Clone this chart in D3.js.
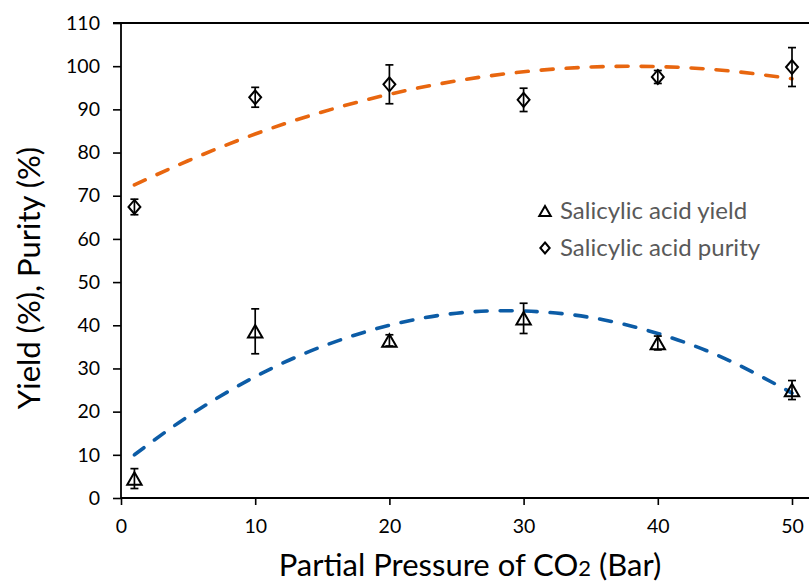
<!DOCTYPE html>
<html>
<head>
<meta charset="utf-8">
<script src="https://cdn.jsdelivr.net/npm/d3@7"></script>
<style>
  body { margin: 0; background: #fff; }
  svg { display: block; }
</style>
</head>
<body>
<div id="chart"></div>
<script>
// pressure points and measured values
var pressures = [1, 10, 20, 30, 40, 50];
var yieldVals = [4.5, 38.6, 36.5, 41.6, 35.9, 25.0];
var yieldErr = [2.3, 5.2, 1.3, 3.5, 1.6, 2.2];
var purityVals = [67.4, 92.8, 95.8, 92.2, 97.5, 99.8];
var purityErr = [1.8, 2.3, 4.5, 2.7, 1.5, 4.5];

// polynomial trend lines, read along the pressure range
var trendX = [1, 5, 10, 15, 20, 25, 30, 35, 40, 45, 50];
var yieldTrend = [10.0, 18.9, 28.1, 35.1, 40.0, 42.8, 43.3, 41.8, 38.1, 32.3, 24.3];
var purityTrend = [72.5, 78.1, 84.3, 89.4, 93.5, 96.6, 98.7, 99.8, 99.9, 99.0, 97.1];

var xTicks = [0, 10, 20, 30, 40, 50];
var yTicks = [0, 10, 20, 30, 40, 50, 60, 70, 80, 90, 100, 110];

(function() {
var width = 809, height = 583;
var mLeft = 121, mRight = 792, mTop = 23, mBottom = 498;

var svg = d3.select('#chart').append('svg')
    .attr('width', width)
    .attr('height', height);

var x = d3.scaleLinear().domain([0, 50]).range([mLeft, mRight]);
var y = d3.scaleLinear().domain([0, 110]).range([mBottom, mTop]);

// axes
var yAxis = svg.append('g')
    .attr('transform', 'translate(' + mLeft + ',0)')
    .call(d3.axisLeft(y).tickValues(yTicks).tickSize(8).tickPadding(13).tickSizeOuter(0));
var xAxis = svg.append('g')
    .attr('transform', 'translate(0,' + mBottom + ')')
    .call(d3.axisBottom(x).tickValues(xTicks).tickSize(7).tickPadding(14).tickSizeOuter(0));

[xAxis, yAxis].forEach(function(g) {
    g.attr('font-size', null).attr('font-family', null);
    g.select('.domain').remove();
    g.selectAll('.tick line').attr('stroke', '#000').attr('stroke-width', 1.6);
    g.selectAll('.tick text')
        .attr('font-family', 'Lato, sans-serif')
        .attr('font-size', 19.5)
        .attr('fill', '#000');
});

// axis lines + top frame
svg.append('line').attr('x1', mLeft).attr('x2', mLeft).attr('y1', mTop).attr('y2', mBottom)
    .attr('stroke', '#000').attr('stroke-width', 1.8);
svg.append('line').attr('x1', mLeft).attr('x2', width).attr('y1', mBottom).attr('y2', mBottom)
    .attr('stroke', '#000').attr('stroke-width', 1.8);
svg.append('line').attr('x1', mLeft - 8).attr('x2', width).attr('y1', y(110)).attr('y2', y(110))
    .attr('stroke', '#000').attr('stroke-width', 1.8);

// dashed trend lines
var line = d3.line()
    .x(function(d) { return x(d[0]); })
    .y(function(d) { return y(d[1]); })
    .curve(d3.curveNatural);

function trend(vals, color) {
    svg.append('path')
        .datum(d3.zip(trendX, vals))
        .attr('d', line)
        .attr('fill', 'none')
        .attr('stroke', color)
        .attr('stroke-width', 3.6)
        .attr('stroke-linecap', 'round')
        .attr('stroke-dasharray', '12,13');
}
trend(purityTrend, '#E8660F');
trend(yieldTrend, '#0C5CA6');

// marker shapes
function triangle(s) {
    var w = s * 1.15, h = s;
    return 'M0,' + (-h / 2) + 'L' + (w / 2) + ',' + (h / 2) + 'L' + (-w / 2) + ',' + (h / 2) + 'Z';
}
function diamond(s) {
    var w = s * 0.85, h = s;
    return 'M0,' + (-h / 2) + 'L' + (w / 2) + ',0L0,' + (h / 2) + 'L' + (-w / 2) + ',0Z';
}

function series(vals, errs, shape, size) {
    var pts = pressures.map(function(p, i) { return {x: p, v: vals[i], e: errs[i]}; });
    var g = svg.append('g');
    var eb = g.selectAll('g.err').data(pts).enter().append('g')
        .attr('stroke', '#000').attr('stroke-width', 1.7);
    eb.append('line')
        .attr('x1', function(d) { return x(d.x); }).attr('x2', function(d) { return x(d.x); })
        .attr('y1', function(d) { return y(d.v + d.e); }).attr('y2', function(d) { return y(d.v - d.e); });
    [1, -1].forEach(function(sgn) {
        eb.append('line')
            .attr('x1', function(d) { return x(d.x) - 4; }).attr('x2', function(d) { return x(d.x) + 4; })
            .attr('y1', function(d) { return y(d.v + sgn * d.e); }).attr('y2', function(d) { return y(d.v + sgn * d.e); });
    });
    g.selectAll('path.mk').data(pts).enter().append('path')
        .attr('class', 'mk')
        .attr('transform', function(d) { return 'translate(' + x(d.x) + ',' + y(d.v) + ')'; })
        .attr('d', shape(size))
        .attr('fill', 'none')
        .attr('stroke', '#000')
        .attr('stroke-width', 2);
}
series(yieldVals, yieldErr, triangle, 12.5);
series(purityVals, purityErr, diamond, 14);

// legend
var legend = [
    {label: 'Salicylic acid yield', shape: triangle, size: 10},
    {label: 'Salicylic acid purity', shape: diamond, size: 11}
];
var lg = svg.selectAll('g.legend').data(legend).enter().append('g')
    .attr('transform', function(d, i) { return 'translate(545,' + (211 + i * 37) + ')'; });
lg.append('path')
    .attr('d', function(d) { return d.shape(d.size); })
    .attr('fill', 'none').attr('stroke', '#000').attr('stroke-width', 2);
lg.append('text')
    .attr('x', 15).attr('y', 8)
    .style('font-family', 'Lato, sans-serif')
    .style('font-size', '24px')
    .attr('fill', '#595959')
    .text(function(d) { return d.label; });

// axis titles
var xt = svg.append('text')
    .attr('x', 470).attr('y', 576)
    .attr('text-anchor', 'middle')
    .style('font-family', 'Lato, sans-serif')
    .style('font-size', '31px')
    .attr('fill', '#000');
xt.append('tspan').text('Partial Pressure of CO');
xt.append('tspan').style('font-size', '22px').text('2');
xt.append('tspan').text(' (Bar)');

svg.append('text')
    .attr('transform', 'translate(40,278) rotate(-90)')
    .attr('text-anchor', 'middle')
    .style('font-family', 'Lato, sans-serif')
    .style('font-size', '31px')
    .attr('fill', '#000')
    .text('Yield (%), Purity (%)');
})();
</script>
</body>
</html>
